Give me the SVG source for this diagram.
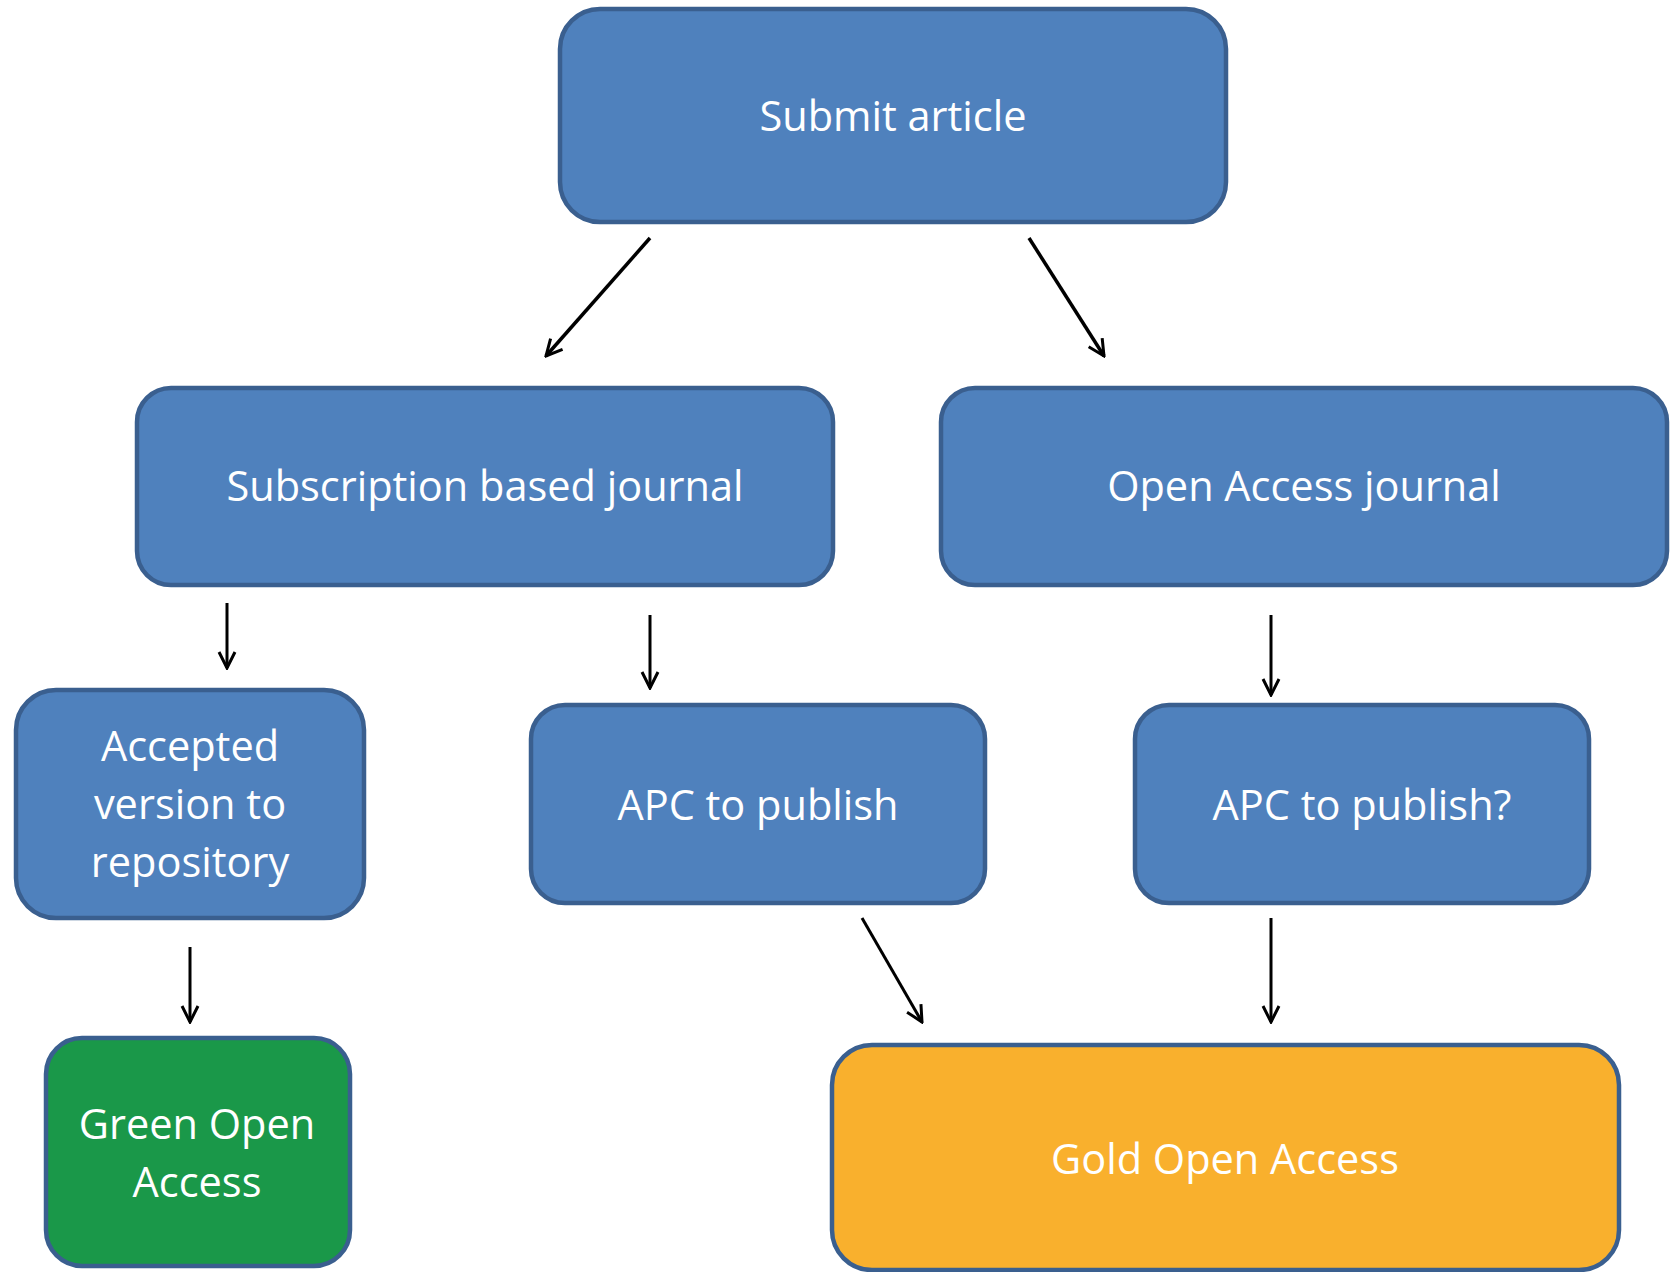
<svg xmlns="http://www.w3.org/2000/svg" width="1671" height="1272" viewBox="0 0 1671 1272">
<style>
.box{stroke:#3A5F8F;stroke-width:4.5}
.blue{fill:#4F81BD}
.green{fill:#1A9849}
.gold{fill:#F9B02D}
.t{font-family:"Open Sans","Liberation Sans",sans-serif;font-size:41.5px;fill:#FFFFFF;text-anchor:middle}
.c{stroke:#000;stroke-width:3;fill:none}
.c2{stroke-width:3.5}
</style>
<defs>
<marker id="ah" viewBox="0 0 20 20" refX="18" refY="10" markerWidth="20" markerHeight="20" markerUnits="userSpaceOnUse" orient="auto">
<path d="M2,2 L18,10 L2,18" fill="none" stroke="#000" stroke-width="3"/>
</marker>
</defs>
<g id="n-submit"><rect class="box blue" x="560" y="9" width="666" height="213" rx="40"/><text class="t" x="893" y="131">Submit article</text></g>
<g id="n-subscription"><rect class="box blue" x="137" y="388" width="696" height="197" rx="34"/><text class="t" x="485" y="501">Subscription based journal</text></g>
<g id="n-oajournal"><rect class="box blue" x="941" y="388" width="726" height="197" rx="34"/><text class="t" x="1304" y="501">Open Access journal</text></g>
<g id="n-accepted"><rect class="box blue" x="16" y="690" width="348" height="228" rx="40"/><text class="t" x="190" y="761">Accepted</text><text class="t" x="190" y="819">version to</text><text class="t" x="190" y="877">repository</text></g>
<g id="n-apc"><rect class="box blue" x="531" y="705" width="454" height="198" rx="34"/><text class="t" x="758" y="820">APC to publish</text></g>
<g id="n-apcq"><rect class="box blue" x="1135" y="705" width="454" height="198" rx="34"/><text class="t" x="1362" y="820">APC to publish?</text></g>
<g id="n-green"><rect class="box green" x="46" y="1038" width="304" height="228" rx="36"/><text class="t" x="197" y="1139">Green Open</text><text class="t" x="197" y="1197">Access</text></g>
<g id="n-gold"><rect class="box gold" x="832" y="1045" width="787" height="225" rx="40"/><text class="t" x="1225" y="1174">Gold Open Access</text></g>
<g id="connectors">
<line class="c c2" x1="650" y1="238" x2="546" y2="356" marker-end="url(#ah)"/>
<line class="c c2" x1="1029" y1="238" x2="1104" y2="356" marker-end="url(#ah)"/>
<line class="c" x1="227" y1="603" x2="227" y2="668" marker-end="url(#ah)"/>
<line class="c" x1="650" y1="615" x2="650" y2="688" marker-end="url(#ah)"/>
<line class="c" x1="1271" y1="615" x2="1271" y2="695" marker-end="url(#ah)"/>
<line class="c" x1="190" y1="947" x2="190" y2="1022" marker-end="url(#ah)"/>
<line class="c" x1="862" y1="918" x2="922" y2="1022" marker-end="url(#ah)"/>
<line class="c" x1="1271" y1="918" x2="1271" y2="1022" marker-end="url(#ah)"/>
</g>
</svg>
